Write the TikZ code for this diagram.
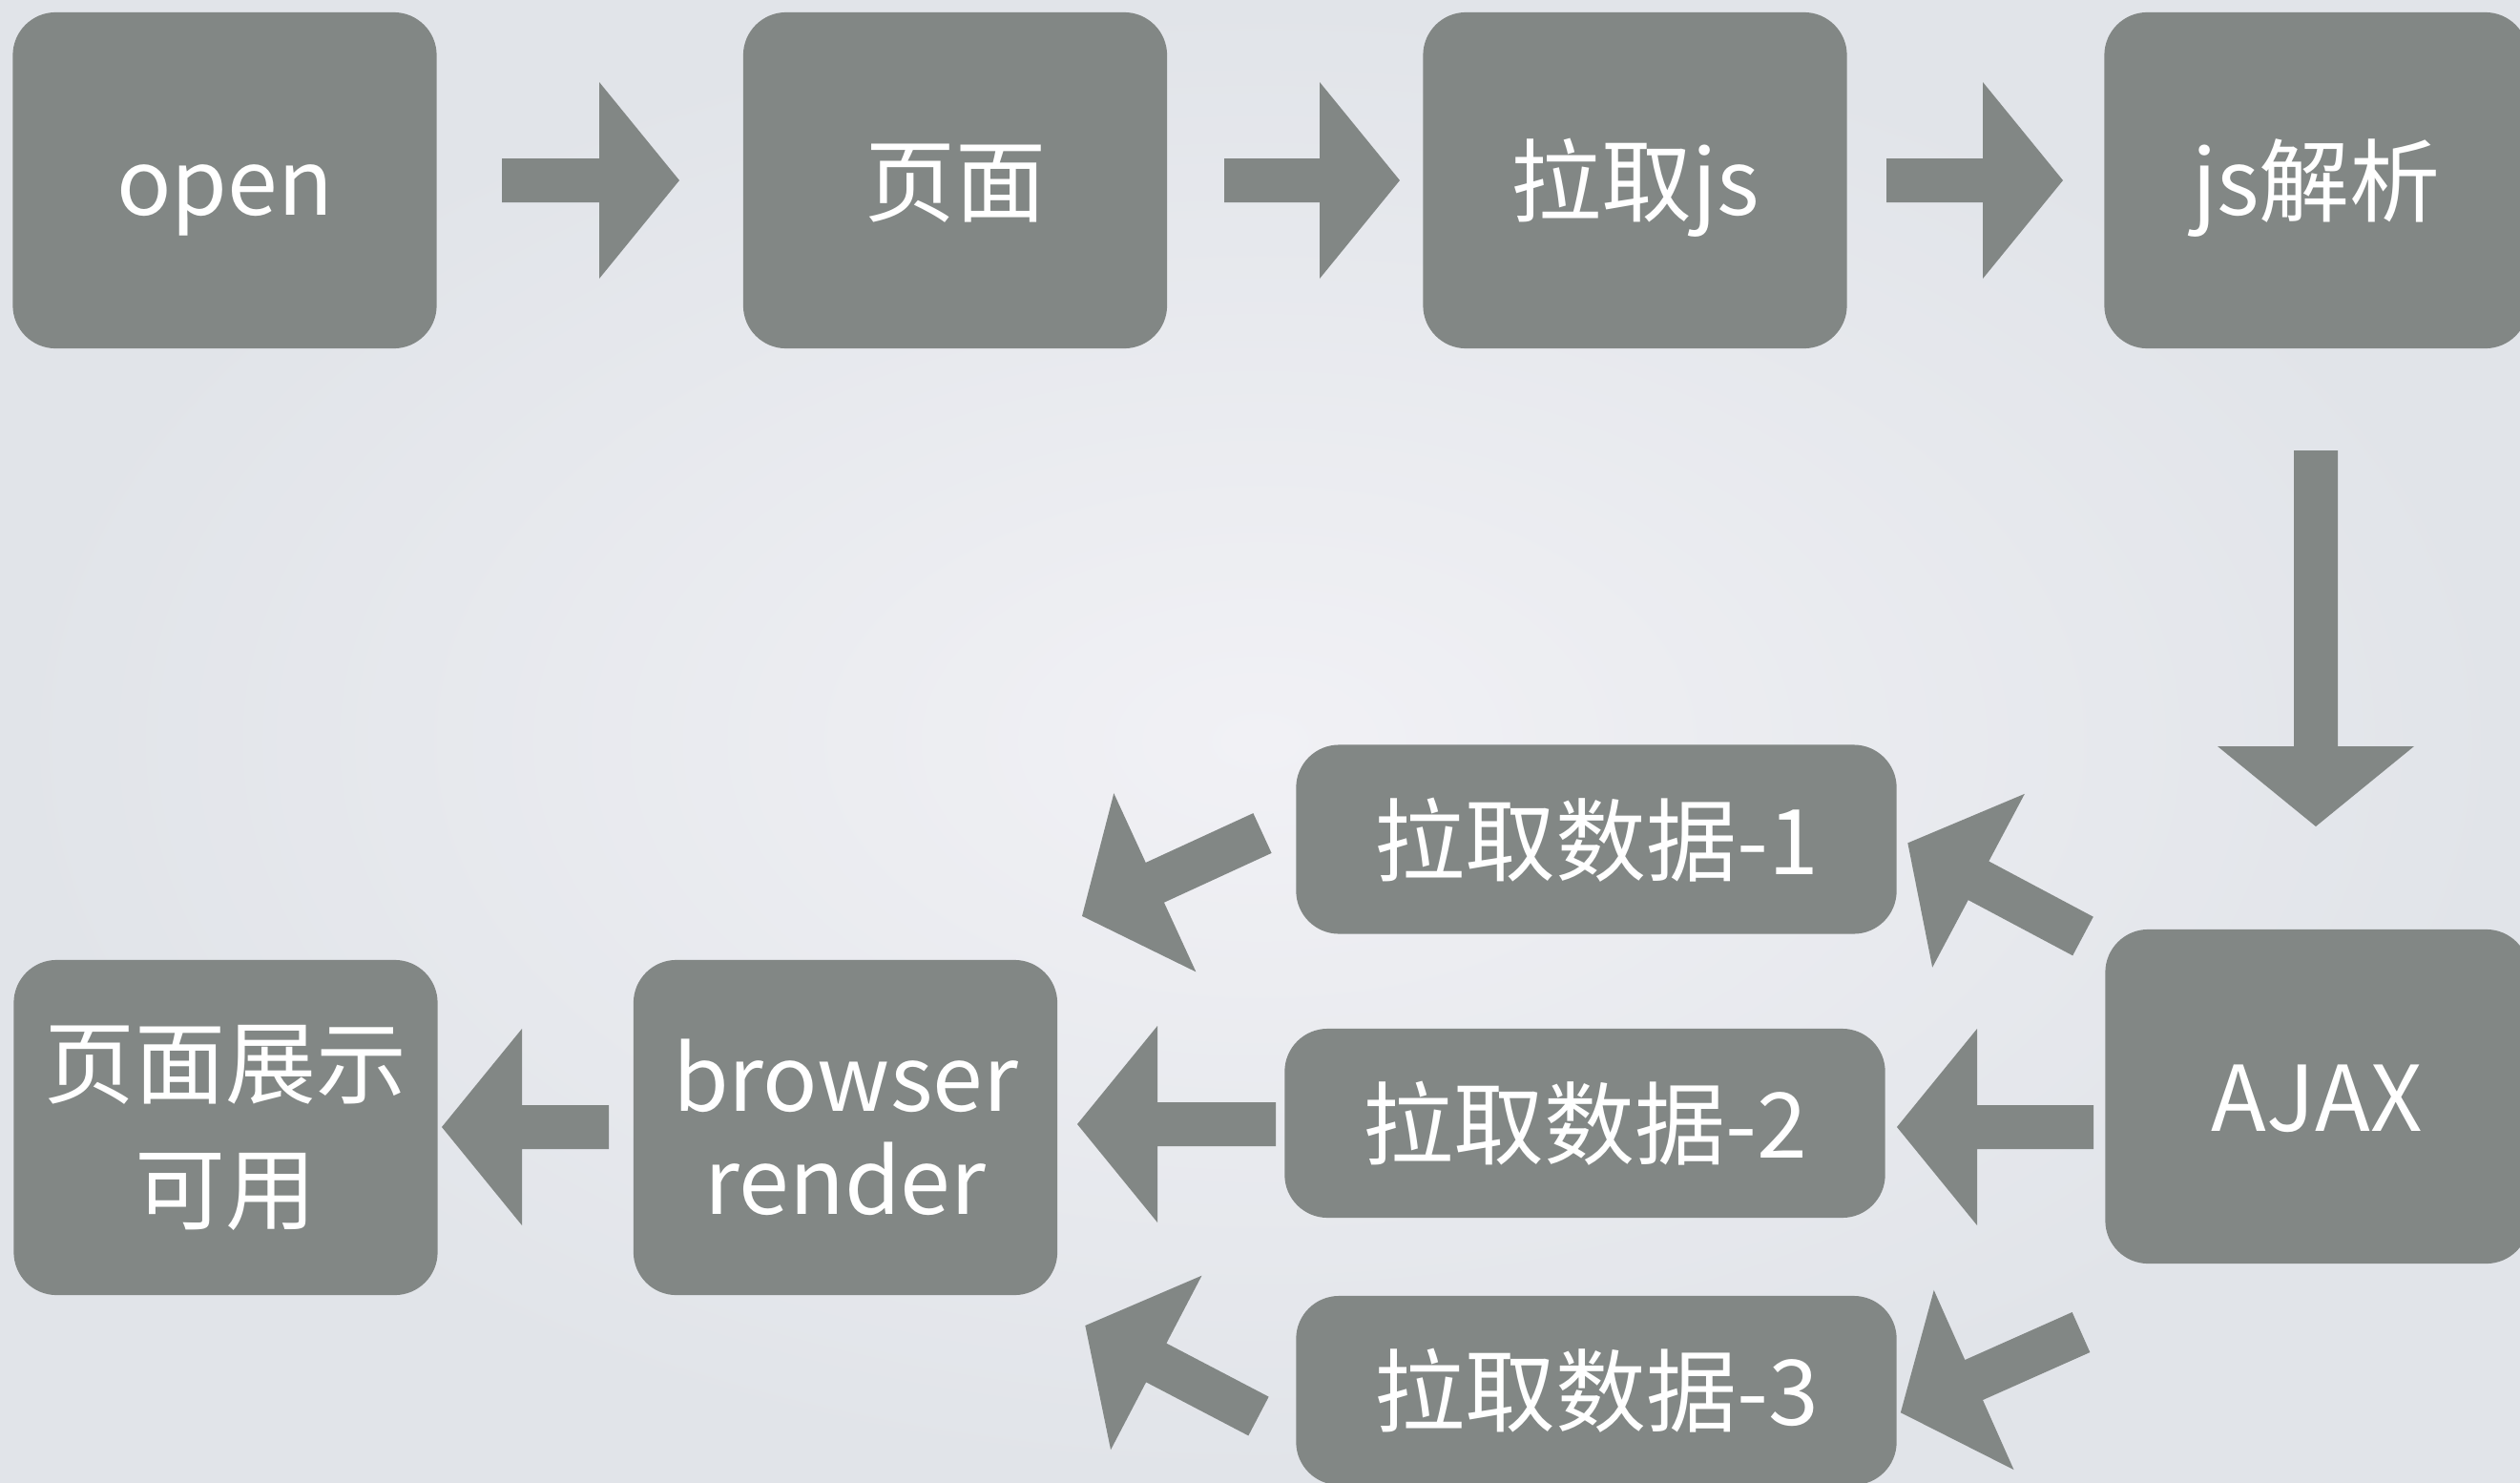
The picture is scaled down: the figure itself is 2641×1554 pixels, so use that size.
\documentclass[tikz,border=0pt]{standalone}
\usepackage{fontspec}
\setmainfont{Noto Sans CJK SC}
\definecolor{boxgray}{RGB}{130,135,133}
\definecolor{bginner}{RGB}{241,241,245}
\definecolor{bgouter}{RGB}{225,228,233}
\begin{document}
\begin{tikzpicture}[x=0.01cm,y=-0.01cm,
  box/.style={fill=boxgray, rounded corners=0.45cm, text=white, inner sep=0pt,
    font=\fontsize{27}{32}\selectfont, align=center},
  oneline/.style={text height=23pt, text depth=2pt},
  tallbox/.style={minimum width=4.44cm, minimum height=3.52cm},
  databox/.style={minimum width=6.29cm, minimum height=1.98cm},
  pics/barrow/.style={code={
    \fill[boxgray] (0,-23) -- (#1-84,-23) -- (#1-84,-103) -- (#1,0)
      -- (#1-84,103) -- (#1-84,23) -- (0,23) -- cycle;}}
]
\useasboundingbox (0,0) rectangle (2641,1554);
\clip (0,0) rectangle (2641,1554);
\shade[inner color=bginner, outer color=bgouter] (0,0) rectangle (2641,1554);

% top row
\node[box,oneline,tallbox] (open)  at (235.5,189) {open};
\node[box,oneline,tallbox] (page)  at (1001,189)  {页面};
\node[box,oneline,tallbox] (fetchjs) at (1713.5,189) {拉取js};
\node[box,oneline,tallbox] (parse) at (2427.5,189) {js解析};

% right column
\node[box,oneline,tallbox,minimum height=3.50cm] (ajax) at (2428.5,1149) {AJAX};

% data boxes
\node[box,oneline,databox] (d1) at (1673,879.5) {拉取数据-1};
\node[box,oneline,databox] (d2) at (1661,1177)  {拉取数据-2};
\node[box,oneline,databox] (d3) at (1673,1457)  {拉取数据-3};

% bottom left
\node[box,tallbox,minimum height=3.51cm,font=\fontsize{27}{30.7}\selectfont] (render) at (886,1181.5) {browser\\render};
\node[box,tallbox,minimum height=3.51cm,font=\fontsize{27}{37.5}\selectfont] (show) at (236.5,1181.5) {页面展示\\可用};

% block arrows
\pic at (526,189)  {barrow=186};
\pic at (1283,189) {barrow=184};
\pic at (1977,189) {barrow=185};
\pic[rotate=-90] at (2427,472) {barrow=394};
\pic[rotate=152]   at (2183,981)  {barrow=208};
\pic[rotate=180]   at (2194,1181) {barrow=206};
\pic[rotate=204]   at (2181,1396) {barrow=207};
\pic[rotate=204.7] at (1323,873)  {barrow=208};
\pic[rotate=180]   at (1337,1178) {barrow=208};
\pic[rotate=152.4] at (1319,1484) {barrow=205};
\pic[rotate=180]   at (638,1181)  {barrow=175};
\end{tikzpicture}
\end{document}
